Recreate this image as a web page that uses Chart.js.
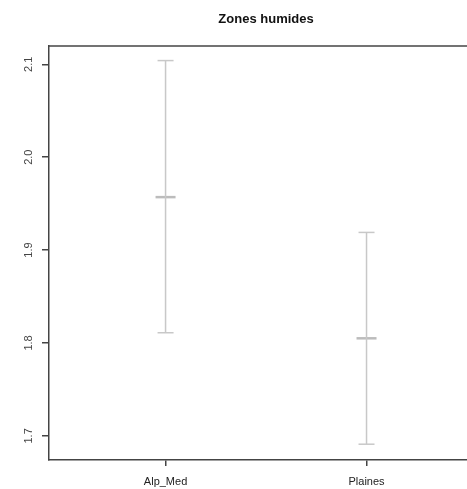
<!DOCTYPE html>
<html>
<head>
<meta charset="utf-8">
<script src="https://cdn.jsdelivr.net/npm/chart.js@4.4.0/dist/chart.umd.min.js"></script>
<style>
  html, body { margin: 0; padding: 0; background: #fff; overflow: hidden; }
  canvas { display: block; }
</style>
</head>
<body>
<canvas id="chart" width="467" height="489"></canvas>
<script>
// values
const title = 'Zones humides';
const categories = ['Alp_Med', 'Plaines'];
const means = [1.957, 1.805];
const lows = [1.811, 1.691];
const highs = [2.104, 1.919];
const yTicks = [1.7, 1.8, 1.9, 2.0, 2.1];

const barColor = '#c8c8c8';
const axisColor = '#444';
const font = '"Liberation Sans", Arial, sans-serif';

const datasets = [];
categories.forEach((cat, i) => {
  const x = i + 1;
  // whisker
  datasets.push({
    type: 'line',
    data: [{ x: x, y: lows[i] }, { x: x, y: highs[i] }],
    borderColor: barColor,
    borderWidth: 1.5,
    pointRadius: 0,
  });
  // caps
  datasets.push({
    type: 'scatter',
    data: [{ x: x, y: lows[i] }, { x: x, y: highs[i] }],
    pointStyle: 'line',
    pointRadius: 8,
    borderColor: barColor,
    pointBorderWidth: 1.5,
  });
  // mean
  datasets.push({
    type: 'scatter',
    data: [{ x: x, y: means[i] }],
    pointStyle: 'line',
    pointRadius: 10,
    borderColor: '#bcbcbc',
    pointBorderWidth: 2.5,
  });
});

const extras = {
  id: 'extras',
  afterDraw(chart) {
    const { ctx, chartArea, scales } = chart;
    ctx.save();
    // top border of the box (right side runs off the picture)
    ctx.strokeStyle = axisColor;
    ctx.lineWidth = 1.5;
    ctx.beginPath();
    ctx.moveTo(chartArea.left, chartArea.top);
    ctx.lineTo(chart.width, chartArea.top);
    ctx.stroke();
    // rotated y tick labels
    ctx.fillStyle = '#444';
    ctx.font = '11px ' + font;
    ctx.textAlign = 'center';
    ctx.textBaseline = 'middle';
    yTicks.forEach(v => {
      ctx.save();
      ctx.translate(29, scales.y.getPixelForValue(v));
      ctx.rotate(-Math.PI / 2);
      ctx.fillText(v.toFixed(1), 0, 0);
      ctx.restore();
    });
    // title, centred over the full plot region
    ctx.fillStyle = '#111';
    ctx.font = 'bold 13px ' + font;
    ctx.fillText(title, scales.x.getPixelForValue(1.5), 19);
    ctx.restore();
  }
};

new Chart(document.getElementById('chart'), {
  data: { datasets },
  options: {
    responsive: false,
    animation: false,
    layout: { autoPadding: false, padding: { top: 46, right: 0, left: 0, bottom: 0 } },
    plugins: { legend: { display: false }, tooltip: { enabled: false }, title: { display: false } },
    scales: {
      x: {
        type: 'linear',
        min: 0.42,
        max: 2.5,
        afterFit(scale) { scale.height = 29; },
        afterBuildTicks(scale) { scale.ticks = categories.map((c, i) => ({ value: i + 1 })); },
        grid: { drawOnChartArea: false, drawTicks: true, tickLength: 6, color: axisColor, lineWidth: 1.5 },
        border: { display: true, color: axisColor, width: 1.5 },
        ticks: {
          padding: 9,
          color: '#222',
          font: { size: 11, family: font },
          maxRotation: 0,
          autoSkip: false,
          callback: v => categories[v - 1] || '',
        },
      },
      y: {
        type: 'linear',
        min: 1.674,
        max: 2.1197,
        afterFit(scale) { scale.width = 49; },
        afterBuildTicks(scale) { scale.ticks = yTicks.map(v => ({ value: v })); },
        grid: { drawOnChartArea: false, drawTicks: true, tickLength: 7, color: axisColor, lineWidth: 1.5 },
        border: { display: true, color: axisColor, width: 1.5 },
        ticks: { display: false },
      },
    },
  },
  plugins: [extras],
});
</script>
</body>
</html>
